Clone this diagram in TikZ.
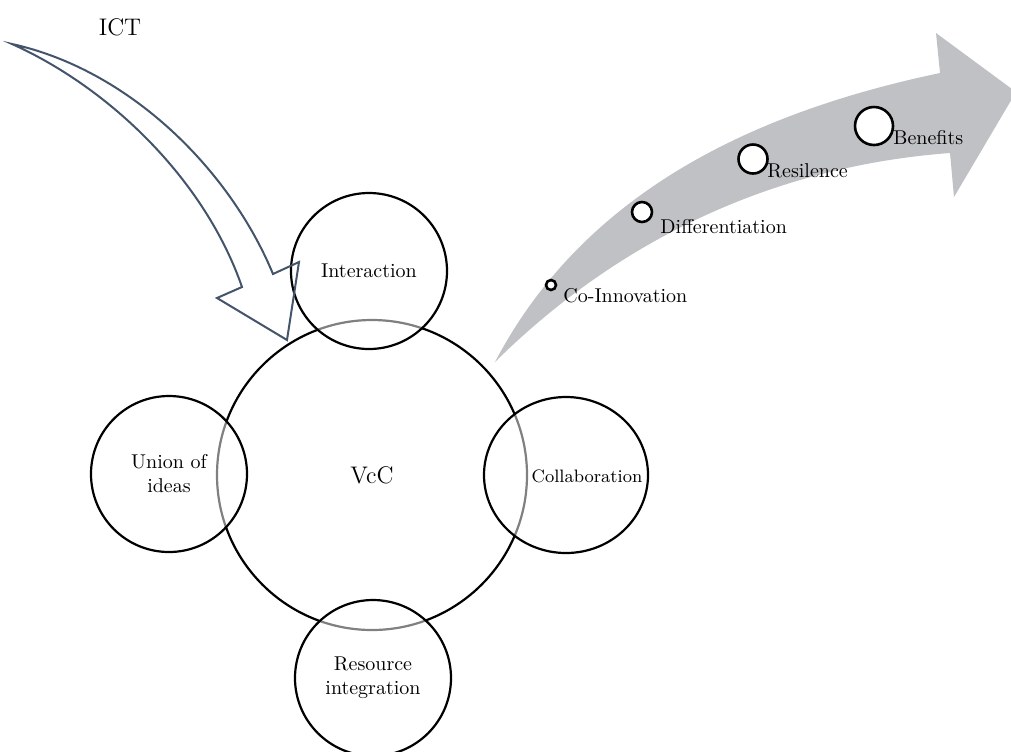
\documentclass[tikz,border=0pt]{standalone}
\usetikzlibrary{shapes.geometric}
\definecolor{bandgray}{RGB}{192,193,196}
\definecolor{ictblue}{RGB}{68,84,106}
\tikzset{
  part/.style={circle, draw=black, line width=1.1pt, fill=white, fill opacity=0.5, text opacity=1, inner sep=0pt, minimum size=78pt, align=center},
  stage/.style={circle, draw=black, line width=1.3pt, fill=white, inner sep=0pt},
  stagetext/.style={anchor=west, inner sep=0pt}
}

\begin{document}
\begin{tikzpicture}[x=0.5pt,y=-0.5pt]
\useasboundingbox (0,0) rectangle (1011,751);
\fill[bandgray] (495,362) .. controls (580,200) and (740,115) .. (940,73) -- (936,33) -- (1016,92) -- (954,197) -- (950,153) .. controls (750,168) and (600,258) .. (495,362) -- cycle;
\node[circle, draw=black, line width=1.1pt, inner sep=0pt, minimum size=155pt, font=\large] (vcc) at (372,475) {VcC};
\node[part] (inter) at (369,271) {Interaction};
\node[part] (union) at (169,474) {Union of\\ideas};
\node[part, ellipse, minimum width=82pt, minimum height=78pt] (collab) at (566,475) {};
\node[font=\small] (collabtxt) at (587,476) {Collaboration};
\node[part] (resint) at (373,678) {Resource\\integration};
\node[stage, minimum size=5pt] (coinno) at (551,285) {};
\node[stage, minimum size=10pt] (diff) at (642,212) {};
\node[stage, minimum size=14.5pt] (resil) at (753,159) {};
\node[stage, minimum size=19pt] (benef) at (874,126) {};
\node[stagetext] (coinnotxt) at (563,296) {Co-Innovation};
\node[stagetext] (difftxt) at (660,227) {Differentiation};
\node[stagetext] (resiltxt) at (767,171) {Resilence};
\node[stagetext] (beneftxt) at (893,138) {Benefits};
\draw[ictblue, line width=1pt] (12,44) .. controls (130,70) and (230,170) .. (273,274) -- (299,262) -- (287,340) -- (217,298) -- (242,287) .. controls (205,180) and (110,88) .. (12,44) -- cycle;
\node[font=\large] (ict) at (120,27) {ICT};
\end{tikzpicture}
\end{document}
